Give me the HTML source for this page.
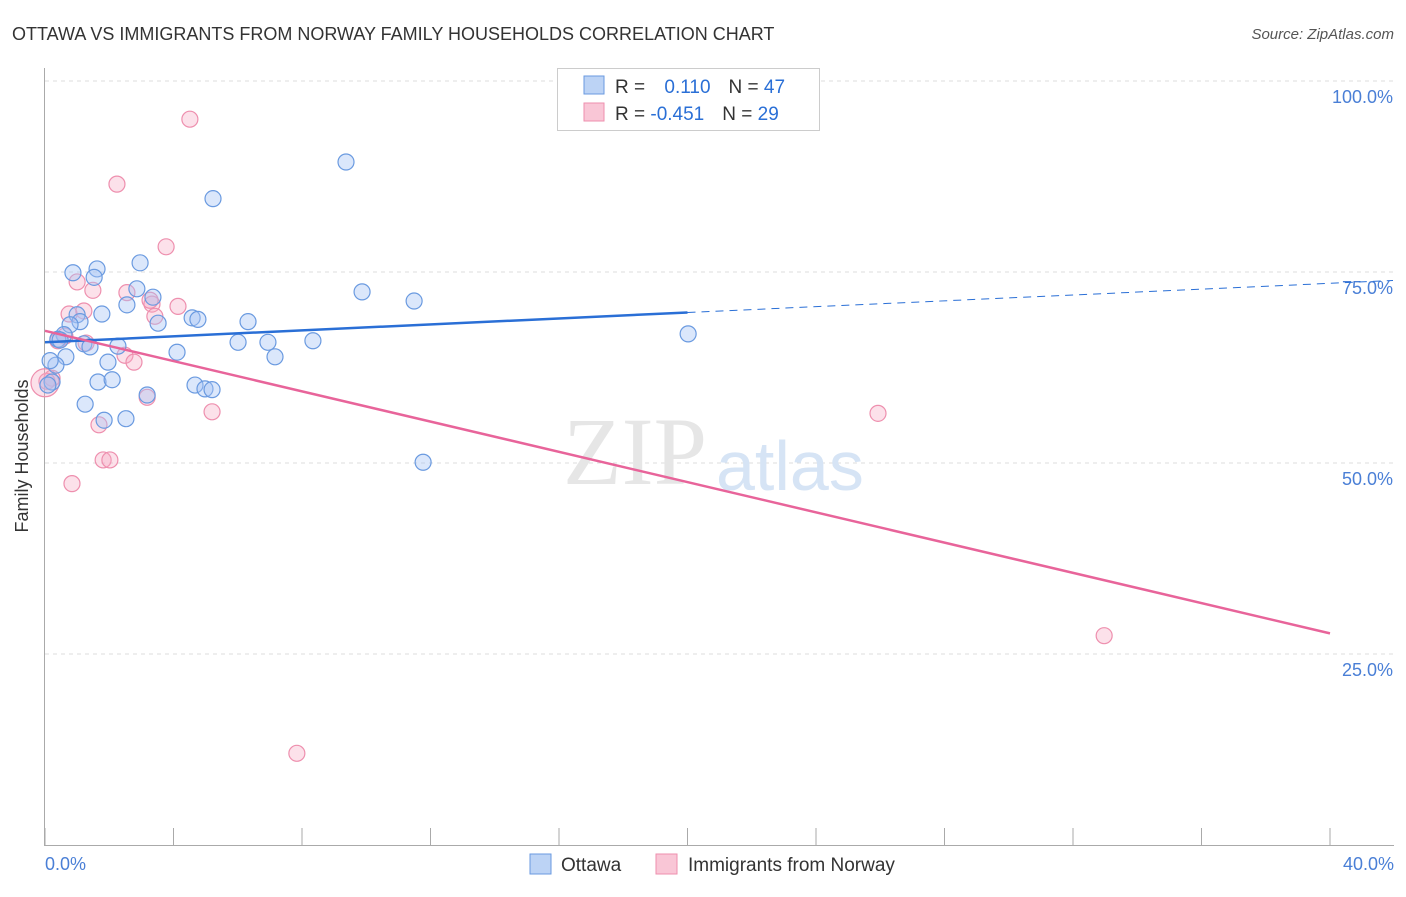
<!DOCTYPE html>
<html><head><meta charset="utf-8"><style>
body{margin:0;background:#fff;font-family:"Liberation Sans",sans-serif}
svg text{font-family:"Liberation Sans",sans-serif}
</style></head><body>
<svg width="1406" height="892" xmlns="http://www.w3.org/2000/svg">
<text x="12" y="40" font-size="18" fill="#333">OTTAWA VS IMMIGRANTS FROM NORWAY FAMILY HOUSEHOLDS CORRELATION CHART</text>
<text x="1394" y="39" font-size="15" fill="#555" font-style="italic" text-anchor="end">Source: ZipAtlas.com</text>
<g id="grid"></g>
<line x1="44.5" y1="68" x2="44.5" y2="846" stroke="#aaa"/>
<line x1="44" y1="845.5" x2="1394" y2="845.5" stroke="#aaa"/>
<g id="ticks"></g>
<text x="563" y="484" font-size="96" fill="#e6e6e6" font-family="Liberation Serif" style="font-family:'Liberation Serif',serif">ZIP</text>
<text x="716" y="490" font-size="70" fill="#d6e4f5">atlas</text>
<text x="28" y="456" font-size="18" fill="#333" text-anchor="middle" transform="rotate(-90 28 456)">Family Households</text>
<g id="pts"></g>
<g id="lines"></g>
<g>
<rect x="557.5" y="68.5" width="262" height="62" fill="#fff" stroke="#ccc"/>
<rect x="584" y="76" width="20" height="18" fill="#bcd3f5" stroke="#6a9ae0"/>
<rect x="584" y="103" width="20" height="18" fill="#f9c6d6" stroke="#ee8fae"/>
<text x="615" y="93" font-size="19" fill="#333">R = <tspan fill="#2a6fd6" dx="14">0.110</tspan><tspan dx="18" fill="#333">N = </tspan><tspan fill="#2a6fd6">47</tspan></text>
<text x="615" y="120" font-size="19" fill="#333">R = <tspan fill="#2a6fd6">-0.451</tspan><tspan dx="18" fill="#333">N = </tspan><tspan fill="#2a6fd6">29</tspan></text>
</g>
<g>
<rect x="530" y="854" width="21" height="20" fill="#bcd3f5" stroke="#6a9ae0"/>
<text x="561" y="871" font-size="19" fill="#333">Ottawa</text>
<rect x="656" y="854" width="21" height="20" fill="#f9c6d6" stroke="#ee8fae"/>
<text x="688" y="871" font-size="19" fill="#333">Immigrants from Norway</text>
</g>
<text x="45" y="870" font-size="18" fill="#4a7fd6">0.0%</text>
<text x="1394" y="870" font-size="18" fill="#4a7fd6" text-anchor="end">40.0%</text>
</svg>
<script>
const yTicks=[100,75,50,25];
const yTickLabels=["100.0%","75.0%","50.0%","25.0%"];
const blueX=[9.37,5.23,2.96,0.87,1.62,1.53,2.86,3.36,2.55,1.77,1.00,1.09,0.78,3.52,4.58,4.76,6.32,9.87,11.49,20.02,0.59,0.40,1.21,1.40,2.27,6.01,6.94,8.34,4.11,0.65,7.16,1.96,0.34,0.16,1.65,2.09,0.22,0.09,4.67,4.98,5.20,3.18,1.25,2.52,1.84,11.77,0.47];
const blueY=[89.4,84.6,76.2,74.9,75.4,74.3,72.8,71.7,70.7,69.5,69.4,68.5,68.1,68.3,69.0,68.8,68.5,72.4,71.2,66.9,66.8,66.2,65.6,65.2,65.3,65.8,65.8,66.0,64.5,63.9,63.9,63.2,62.8,63.4,60.6,60.9,60.6,60.2,60.2,59.7,59.6,58.9,57.7,55.8,55.6,50.1,66.1];
const pinkX=[4.51,2.24,3.77,1.00,1.49,2.55,4.14,3.33,3.42,0.75,1.21,0.62,0.40,1.28,2.49,2.77,0.22,0.06,0.0,3.18,5.20,1.68,1.81,2.02,0.84,25.93,32.97,7.84,3.27];
const pinkY=[95.0,86.5,78.3,73.7,72.6,72.3,70.5,70.8,69.2,69.5,69.9,66.6,66.0,65.7,64.1,63.2,61.1,60.7,60.5,58.6,56.7,55.0,50.4,50.4,47.3,56.5,27.4,12.0,71.3];
const blueTrend=[65.8,69.7,73.9];
const blueTrendX=[0,20,42];
const pinkTrend=[67.3,27.7];
const pinkTrendX=[0,40];
const NS="http://www.w3.org/2000/svg";
const X=v=>45+v*32.125, Y=v=>81+(100-v)*7.64;
function mk(t,a,p){const e=document.createElementNS(NS,t);for(const k in a)e.setAttribute(k,a[k]);p.appendChild(e);return e;}
const grid=document.getElementById('grid');
yTicks.forEach((t,i)=>{
 const l=mk('line',{x1:45,x2:1394,y1:Y(t),y2:Y(t),stroke:'#ddd','stroke-dasharray':'4,4'},grid);
 
 
 const tx=mk('text',{x:1393,y:Y(t)+22,'font-size':18,fill:'#4a7fd6','text-anchor':'end'},grid);
 tx.textContent=yTickLabels[i];
 
 
});
const ticks=document.getElementById('ticks');
for(let i=0;i<=10;i++){
 const l=mk('line',{x1:X(i*4),x2:X(i*4),y1:828,y2:845,stroke:'#aaa'},ticks);
 
 
}
const pts=document.getElementById('pts');
pinkX.forEach((x,i)=>{
 const c=mk('circle',{cx:X(x),cy:Y(pinkY[i]),r:(x===0?14:8),fill:'rgba(246,170,195,0.35)',stroke:'#ee8fae','stroke-width':1.2},pts);
 
 
});
blueX.forEach((x,i)=>{
 const c=mk('circle',{cx:X(x),cy:Y(blueY[i]),r:8,fill:'rgba(164,194,244,0.4)',stroke:'#6a9ae0','stroke-width':1.2},pts);
 
 
});
const lines=document.getElementById('lines');
const b1=mk('line',{x1:X(blueTrendX[0]),y1:Y(blueTrend[0]),x2:X(blueTrendX[1]),y2:Y(blueTrend[1]),stroke:'#2a6fd6','stroke-width':2.5},lines);


const b2=mk('line',{x1:X(blueTrendX[1]),y1:Y(blueTrend[1]),x2:1393,y2:Y(blueTrend[1]+(blueTrend[2]-blueTrend[1])*((1393-X(blueTrendX[1]))/(X(blueTrendX[2])-X(blueTrendX[1])))),stroke:'#2a6fd6','stroke-width':1,'stroke-dasharray':'8,6'},lines);


const p1=mk('line',{x1:X(pinkTrendX[0]),y1:Y(pinkTrend[0]),x2:X(pinkTrendX[1]),y2:Y(pinkTrend[1]),stroke:'#e8649a','stroke-width':2.5},lines);


</script>
</body></html>
